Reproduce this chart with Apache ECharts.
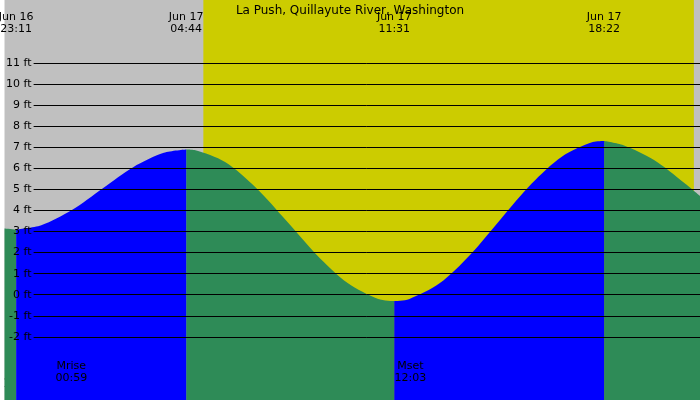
<!DOCTYPE html><html><head><meta charset="utf-8">
<script src="https://cdn.jsdelivr.net/npm/echarts@6/dist/echarts.min.js"></script>
<style>body{margin:0}#c{width:700px;height:400px}</style></head><body><div id="c"></div>
<script>
const title = 'La Push, Quillayute River, Washington';
const risingData = [[-0.82,3.1],[0,3.3],[1,4.02],[2,5.05],[3,6.06],[4,6.74],[4.73,6.9],[4.731,null],
  [11.52,-0.3],[12,-0.21],[13,0.54],[14,1.9],[15,3.6],[16,5.27],[17,6.57],[18,7.25],[18.37,7.3]];
const fallingData = [[-1.2,3.15],[-0.82,3.1],[-0.81,null],[4.73,6.9],[5,6.87],[6,6.3],[7,5.09],[8,3.51],[9,1.88],[10,0.56],[11,-0.2],[11.52,-0.3],[11.53,null],
  [18.37,7.3],[19,7.1],[20,6.4],[21,5.3],[21.5,4.7]];
const extremes = [[-0.82,'Jun 16\n23:11'],[4.73,'Jun 17\n04:44'],[11.52,'Jun 17\n11:31'],[18.37,'Jun 17\n18:22']];
const moonEvents = [[0.98,'Mrise\n00:59'],[12.05,'Mset\n12:03']];
const gridFeet = [-2,-1,0,1,2,3,4,5,6,7,8,9,10,11];
const hourTicks = [-1,0,1,2,3,4,5,6,7,8,9,10,11,12,13,14,15,16,17,18,19,20,21];
const dayStart = 5.29, dayEnd = 21.3;
const XMIN=-1.2, XMAX=21.5;
const font='DejaVu Sans, sans-serif';
const chart = echarts.init(document.getElementById('c'));
function hl(h){let v=((h%12)+12)%12; if(v===0)v=12; return String(v).padStart(2,'0');}
chart.setOption({
  animation:false,
  title:{text:title,left:'center',top:0,textStyle:{fontSize:12,fontWeight:'normal',color:'#000',fontFamily:font}},
  grid:{left:0,right:0,top:0,bottom:0},
  xAxis:{type:'value',min:XMIN,max:XMAX,splitLine:{show:false},axisLine:{show:false},
    axisTick:{show:true,inside:true,length:8,customValues:hourTicks,lineStyle:{color:'#000'}},
    axisLabel:{inside:true,margin:10,customValues:hourTicks,formatter:v=>hl(v),fontSize:12,color:'#000',fontFamily:font}},
  yAxis:{type:'value',min:-5,max:14,interval:1,splitLine:{show:false},axisLine:{show:false},axisTick:{show:false},
    axisLabel:{inside:true,align:'right',margin:27,fontSize:11,color:'#000',fontFamily:font,
      formatter:v=>(v>=-2&&v<=11)?v+' ft':''},z:10},
  series:[
    {type:'line',data:[],z:0,silent:true,
      markArea:{silent:true,data:[
        [{coord:[XMIN,-5],itemStyle:{color:'#c0c0c0'}},{coord:[XMAX,14]}],
        [{coord:[dayStart,-5],itemStyle:{color:'#cccc00'}},{coord:[dayEnd,14]}]]},
      markLine:{silent:true,symbol:'none',label:{show:false},lineStyle:{color:'#000',width:1,type:'solid'},
        data:gridFeet.map(f=>[{coord:[-0.25,f]},{coord:[XMAX,f]}])}},
    {type:'line',data:fallingData,smooth:0.3,showSymbol:false,connectNulls:false,z:2,
      lineStyle:{width:0},areaStyle:{color:'#2e8b57',opacity:1,origin:'start'}},
    {type:'line',data:risingData,smooth:0.3,showSymbol:false,connectNulls:false,z:3,
      lineStyle:{width:0},areaStyle:{color:'#0000ff',opacity:1,origin:'start'},
      markPoint:{symbolSize:0,silent:true,data:
        extremes.map(e=>({coord:[e[0],13.7],value:e[1],label:{show:true,formatter:e[1],position:'bottom',color:'#000',fontSize:11,fontFamily:font,lineHeight:12}}))
        .concat(moonEvents.map(e=>({coord:[e[0],-2.85],value:e[1],label:{show:true,formatter:e[1],position:'bottom',color:'#000',fontSize:11,fontFamily:font,lineHeight:12}})))}}
  ]
});
</script></body></html>
